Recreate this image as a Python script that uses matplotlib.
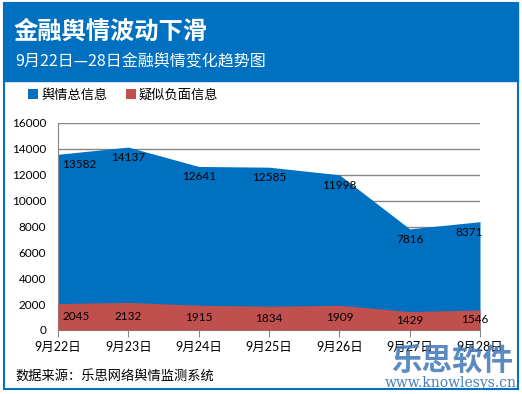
import matplotlib.pyplot as plt
from matplotlib.patches import Rectangle

plt.rcParams['font.family'] = ['Lato', 'Noto Sans CJK SC', 'DejaVu Sans']

dates = ["9月22日", "9月23日", "9月24日", "9月25日", "9月26日", "9月27日", "9月28日"]
total = [13582, 14137, 12641, 12585, 11998, 7816, 8371]
negative = [2045, 2132, 1915, 1834, 1909, 1429, 1546]
yticks = [0, 2000, 4000, 6000, 8000, 10000, 12000, 14000, 16000]

blue = "#0070C0"
red = "#C0504D"
cjk = ['Noto Sans CJK SC', 'DejaVu Sans']

fig = plt.figure(figsize=(5.22, 3.94), dpi=100)

# banner + outer frame
fig.patches.append(Rectangle((4 / 522, 1 - 81 / 394), 514 / 522, 78 / 394,
                             transform=fig.transFigure, color=blue, zorder=0))
fig.patches.append(Rectangle((4 / 522, 1 - 389 / 394), 514 / 522, 386 / 394,
                             transform=fig.transFigure, fill=False, ec=blue, lw=1.5, zorder=0))

fig.text(14 / 522, 1 - 32 / 394, "金融舆情波动下滑", color="white", fontsize=17.5,
         fontweight="bold", va="center", ha="left", family=cjk)
fig.text(15 / 522, 1 - 62 / 394, "9月22日—28日金融舆情变化趋势图", color="white", fontsize=11.5,
         va="center", ha="left", family=cjk)

ax = fig.add_axes([58 / 522, 1 - 330 / 394, 422 / 522, 207 / 394])
x = list(range(len(dates)))
ax.fill_between(x, 0, total, color=blue, lw=0, zorder=2, label="舆情总信息")
ax.fill_between(x, 0, negative, color=red, lw=0, zorder=3, label="疑似负面信息")

for i, v in enumerate(total):
    ha = "center"
    dx = 0
    if i == 0:
        ha, dx = "left", 3
    elif i == len(total) - 1:
        ha, dx = "right", 2
    ax.annotate(str(v), (i, v), xytext=(dx, -7.5), textcoords="offset points",
                ha=ha, va="center", fontsize=8.5, zorder=5)
for i, v in enumerate(negative):
    ha = "center"
    dx = 0
    if i == 0:
        ha, dx = "left", 3
    elif i == len(negative) - 1:
        ha, dx = "center", -4
    ax.annotate(str(v), (i, v / 2), xytext=(dx, 0), textcoords="offset points",
                ha=ha, va="center", fontsize=8.5, zorder=5)

ax.set_xlim(0, len(dates) - 1)
ax.set_ylim(0, 16000)
ax.set_yticks(yticks)
ax.set_yticklabels([str(t) for t in yticks], fontsize=8.5)
ax.set_xticks(x)
ax.set_xticklabels(dates, fontsize=9)
ax.yaxis.grid(True, color="#868686", lw=1)
ax.set_axisbelow(True)
for s in ["top", "right"]:
    ax.spines[s].set_visible(False)
ax.spines["left"].set_color("#868686")
ax.spines["bottom"].set_color("#868686")
ax.tick_params(axis="y", length=0, pad=8.5)
ax.tick_params(axis="x", length=5, color="#868686", direction="out", pad=3)
ax.patch.set_alpha(0)

fig.legend(loc="upper left", bbox_to_anchor=(16 / 522, 1 - 76 / 394), ncol=2, frameon=False,
           fontsize=9.5, handlelength=0.8, handleheight=0.8, handletextpad=0.2, columnspacing=1.4)

fig.text(15 / 522, 1 - 377 / 394, "数据来源：乐思网络舆情监测系统", fontsize=9.5, va="center", ha="left",
         family=cjk)

# watermark
fig.text(452 / 522, 1 - 361 / 394, "乐思软件", fontsize=22, fontweight="bold", color="#4A7EBB",
         alpha=0.9, ha="center", va="center", family=cjk)
fig.text(451 / 522, 1 - 383 / 394, "www.knowlesys.cn", fontsize=10, family="DejaVu Serif",
         color="#4A7EBB", ha="center", va="center")

fig.savefig("out.png", dpi=100)
